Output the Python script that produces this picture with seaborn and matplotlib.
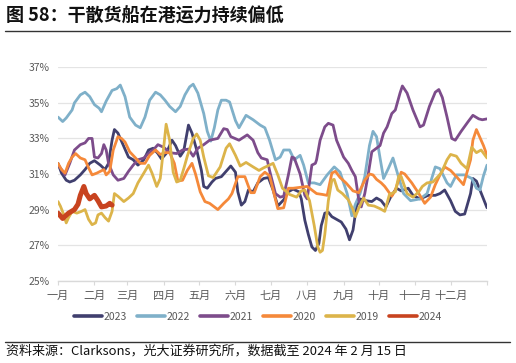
import matplotlib.pyplot as plt
import seaborn as sns
import pandas as pd
from matplotlib.lines import Line2D

# day-of-year samples, one pair of lists per year
days_2023 = [0, 3, 7, 10, 14, 19, 23, 27, 31, 36, 40, 43, 46, 48, 51, 56, 60, 64, 68, 73, 77, 81, 85, 88,
             92, 97, 100, 104, 107, 111, 114, 118, 122, 124, 127, 131, 134, 139, 143, 147, 151, 153, 156,
             159, 162, 166, 170, 175, 179, 183, 187, 192, 196, 200, 205, 207, 210, 213, 216, 219, 222, 224,
             227, 230, 233, 237, 241, 245, 248, 251, 254, 257, 262, 267, 271, 275, 279, 283, 288, 292, 298,
             302, 308, 315, 321, 325, 329, 334, 338, 342, 346, 351, 353, 356, 359, 362, 365]
vals_2023 = [31.6, 31.05, 30.65, 30.55, 30.65, 30.95, 31.25, 31.6, 31.75, 31.5, 31.25, 31.6, 32.9, 33.5,
             33.3, 32.55, 31.95, 31.8, 31.5, 31.8, 32.35, 32.45, 32.15, 31.85, 32.15, 32.9, 32.6, 32.0,
             32.3, 33.75, 33.3, 32.35, 31.2, 30.3, 30.2, 30.55, 30.75, 30.85, 31.15, 31.45, 31.1, 30.0,
             29.25, 29.45, 30.1, 30.0, 30.5, 30.75, 30.8, 30.1, 29.2, 29.55, 30.0, 30.15, 30.0, 29.6,
             28.4, 27.6, 26.9, 26.7, 27.1, 28.1, 28.8, 28.85, 28.6, 28.45, 28.3, 27.9, 27.3, 27.85, 29.2,
             29.6, 29.5, 29.45, 29.65, 29.5, 29.15, 29.7, 30.2, 30.05, 30.2, 29.8, 29.6, 29.8, 29.8, 29.9,
             30.1, 29.5, 28.9, 28.7, 28.75, 29.9, 30.75, 30.6, 30.1, 29.6, 29.1]

days_2022 = [0, 4, 7, 12, 14, 19, 23, 27, 31, 35, 37, 41, 46, 50, 53, 57, 61, 66, 70, 74, 78, 83, 87, 91,
             95, 100, 104, 108, 112, 115, 119, 124, 127, 130, 133, 136, 139, 143, 146, 151, 154, 160, 166,
             172, 176, 180, 185, 189, 192, 197, 201, 206, 209, 213, 218, 223, 229, 235, 240, 246, 250, 253,
             257, 261, 265, 268, 271, 274, 277, 281, 285, 289, 294, 300, 308, 314, 321, 325, 331, 334, 339,
             346, 352, 356, 359, 362, 365]
vals_2022 = [34.2, 33.95, 34.15, 34.6, 35.0, 35.45, 35.6, 35.35, 34.9, 34.7, 34.5, 35.1, 35.7, 35.8, 36.0,
             35.35, 34.2, 33.75, 33.6, 34.2, 35.15, 35.6, 35.45, 35.15, 34.8, 34.5, 34.8, 35.45, 35.9,
             36.05, 35.55, 34.4, 33.4, 32.85, 33.6, 34.6, 35.15, 35.15, 35.05, 34.0, 33.6, 34.3, 34.05,
             33.75, 33.6, 32.9, 31.8, 31.95, 32.35, 32.35, 31.8, 32.05, 31.5, 30.5, 30.5, 30.4, 30.95,
             31.4, 31.1, 29.9, 28.65, 29.3, 29.9, 30.85, 32.6, 33.4, 33.1, 31.9, 30.75, 31.3, 31.9, 31.0,
             29.9, 29.5, 29.6, 29.9, 31.4, 31.3, 30.5, 30.3, 30.95, 30.95, 30.75, 30.2, 30.1, 30.9, 31.5]

days_2021 = [0, 3, 6, 10, 14, 19, 23, 26, 29, 31, 34, 37, 39, 41, 43, 47, 51, 56, 60, 64, 68, 73, 77, 81,
             85, 90, 95, 101, 106, 111, 115, 119, 124, 129, 136, 141, 144, 147, 154, 161, 166, 170, 173,
             178, 180, 185, 189, 192, 196, 199, 201, 206, 210, 212, 216, 219, 220, 223, 227, 230, 234, 237,
             243, 247, 250, 253, 256, 258, 261, 264, 267, 271, 274, 277, 280, 284, 287, 291, 293, 297, 302,
             308, 311, 316, 321, 324, 327, 331, 335, 338, 343, 349, 353, 358, 361, 365]
vals_2021 = [31.5, 31.25, 30.95, 31.6, 32.35, 32.65, 32.75, 33.0, 33.0, 31.95, 31.9, 32.15, 32.65, 32.35,
             31.6, 30.95, 30.65, 30.75, 31.15, 31.5, 31.8, 31.9, 32.15, 32.35, 32.65, 32.5, 32.2, 32.15,
             32.35, 32.4, 32.0, 32.45, 32.65, 32.9, 33.0, 33.55, 33.5, 33.1, 32.9, 33.2, 32.9, 32.2, 31.9,
             31.8, 31.2, 29.9, 29.7, 29.75, 30.95, 31.95, 31.9, 31.0, 29.8, 29.6, 31.5, 31.6, 31.8, 32.9,
             33.65, 33.85, 33.75, 32.9, 31.95, 31.6, 31.2, 30.85, 29.5, 29.15, 29.9, 31.0, 32.25, 32.45,
             32.6, 33.3, 33.65, 34.4, 34.6, 35.55, 35.95, 35.55, 34.6, 33.65, 33.75, 34.8, 35.6, 35.75,
             35.3, 34.2, 33.0, 32.9, 33.4, 33.95, 34.3, 34.1, 34.05, 34.1]

days_2020 = [0, 3, 6, 9, 12, 15, 19, 23, 26, 29, 33, 36, 39, 41, 44, 47, 51, 54, 57, 61, 66, 70, 74, 78,
             83, 87, 91, 95, 99, 102, 106, 110, 114, 117, 121, 125, 129, 134, 136, 141, 145, 148, 153, 159,
             164, 167, 172, 176, 180, 183, 187, 192, 196, 200, 206, 212, 216, 220, 225, 229, 233, 236, 240,
             245, 251, 256, 261, 265, 268, 271, 275, 278, 284, 287, 292, 295, 301, 307, 312, 317, 321, 325,
             329, 334, 339, 345, 351, 353, 356, 359, 362, 365]
vals_2020 = [31.6, 31.25, 31.05, 31.6, 31.95, 32.15, 31.9, 31.8, 31.35, 30.95, 31.05, 31.15, 31.25, 30.95,
             31.15, 32.35, 33.1, 33.0, 32.8, 32.25, 31.9, 31.6, 31.6, 32.05, 32.35, 32.1, 32.2, 32.2, 31.6,
             30.6, 30.65, 31.2, 31.6, 31.0, 30.0, 29.45, 29.35, 29.1, 29.0, 29.35, 29.6, 29.9, 30.85,
             30.85, 29.95, 29.95, 30.85, 31.1, 30.9, 30.1, 29.05, 29.1, 30.2, 30.2, 30.25, 30.3, 30.1,
             29.9, 29.85, 29.8, 31.05, 31.15, 30.8, 30.5, 30.05, 29.95, 30.65, 31.0, 30.95, 30.7, 30.5,
             30.3, 29.75, 30.1, 31.1, 31.0, 30.5, 29.9, 29.35, 29.7, 30.4, 30.95, 31.4, 31.2, 30.85, 30.4,
             31.8, 32.9, 33.5, 33.05, 32.6, 32.05]

days_2019 = [0, 2, 5, 7, 9, 12, 16, 20, 23, 26, 29, 32, 34, 37, 40, 43, 46, 48, 51, 56, 60, 64, 68, 73,
             77, 80, 84, 87, 90, 92, 95, 98, 101, 104, 107, 110, 115, 118, 121, 124, 128, 132, 138, 143,
             146, 151, 155, 160, 166, 171, 175, 180, 183, 187, 191, 197, 203, 207, 210, 214, 218, 221, 223,
             225, 227, 230, 233, 235, 238, 242, 247, 251, 253, 256, 260, 264, 269, 274, 278, 282, 287, 290,
             292, 297, 302, 307, 310, 314, 319, 326, 331, 334, 339, 343, 348, 352, 356, 360, 365]
vals_2019 = [29.45, 29.2, 28.7, 28.25, 28.55, 28.9, 28.8, 28.9, 29.0, 28.45, 28.15, 28.25, 28.7, 28.8,
             28.55, 28.35, 28.9, 29.9, 29.75, 29.45, 29.65, 29.9, 30.5, 31.05, 31.5, 31.05, 30.3, 30.75,
             32.55, 33.8, 32.9, 31.1, 30.55, 30.65, 31.3, 32.0, 33.0, 33.25, 32.9, 31.95, 30.9, 30.8, 31.4,
             32.45, 32.7, 32.05, 31.45, 31.65, 31.4, 31.2, 31.35, 31.5, 31.6, 30.95, 30.2, 29.85, 29.7,
             30.05, 30.1, 29.5, 28.1, 26.9, 26.6, 26.7, 27.6, 29.5, 30.65, 30.7, 30.1, 29.9, 29.55, 29.0,
             28.6, 29.1, 29.65, 29.25, 29.2, 29.05, 28.9, 29.85, 30.0, 30.9, 30.85, 29.9, 29.7, 30.0, 30.3,
             30.5, 30.55, 31.05, 31.8, 32.1, 32.0, 31.6, 31.3, 32.5, 32.2, 32.35, 31.9]

days_2024 = [0, 4, 9, 14, 17, 19, 22, 24, 27, 31, 34, 37, 41, 44, 46]
vals_2024 = [28.8, 28.5, 28.8, 29.0, 29.3, 29.8, 30.3, 29.9, 29.6, 29.8, 29.5, 29.15, 29.2, 29.35, 29.25]

month_starts = [0, 31, 59, 90, 120, 151, 181, 212, 243, 273, 304, 334]
month_labels = ["一月", "二月", "三月", "四月", "五月", "六月",
                "七月", "八月", "九月", "十月", "十一月", "十二月"]
y_ticks = [25, 27, 29, 31, 33, 35, 37]

series = [
    ("2023", days_2023, vals_2023, "#403f6e", 2.0),
    ("2022", days_2022, vals_2022, "#7fb0c9", 2.0),
    ("2021", days_2021, vals_2021, "#7d4c8b", 2.0),
    ("2020", days_2020, vals_2020, "#f5893a", 2.0),
    ("2019", days_2019, vals_2019, "#dcb44a", 2.0),
    ("2024", days_2024, vals_2024, "#c8431f", 3.6),
]

sns.set_theme(style="white")
plt.rcParams["font.family"] = ["Noto Sans CJK SC", "DejaVu Sans"]

fig = plt.figure(figsize=(5.16, 3.63), dpi=100)
ax = fig.add_axes([0.1124, 0.2267, 0.8314, 0.5879])

for name, d, v, color, lw in series:
    df = pd.DataFrame({"day": d, "value": v})
    sns.lineplot(data=df, x="day", y="value", ax=ax, color=color, linewidth=lw,
                 estimator=None, sort=False, label=name)

ax.set_xlim(0, 365)
ax.set_ylim(25, 37)
ax.set_yticks(y_ticks)
ax.set_yticklabels([f"{t}%" for t in y_ticks])
ax.set_xticks(month_starts + [365])
ax.set_xticklabels(month_labels + [""])
ax.set_xlabel("")
ax.set_ylabel("")

ax.grid(axis="y", color="#e4e4e4", linewidth=0.9)
ax.grid(axis="x", visible=False)
ax.set_axisbelow(True)
for side in ["top", "right", "left"]:
    ax.spines[side].set_visible(False)
ax.spines["bottom"].set_color("#d9d9d9")
ax.spines["bottom"].set_linewidth(1.0)
ax.tick_params(axis="x", bottom=True, length=3, width=0.8, color="#d9d9d9",
               labelsize=8, labelcolor="#595959", pad=4)
ax.tick_params(axis="y", left=False, length=0, labelsize=7.5, labelcolor="#595959", pad=6)

ax.get_legend().remove()
handles = [Line2D([], [], color=c, linewidth=2.6) for _, _, _, c, _ in series]
labels = [n for n, _, _, _, _ in series]
fig.legend(handles, labels, loc="center", bbox_to_anchor=(0.5, 0.128), ncol=6,
           frameon=False, fontsize=7.5, labelcolor="#595959", handlelength=2.7,
           handletextpad=0.15, columnspacing=0.95)

fig.text(0.012, 0.957, "图 58：干散货船在港运力持续偏低", fontsize=13,
         fontweight="bold", va="center", ha="left", color="#111111")
fig.add_artist(Line2D([0.01, 0.988], [0.915, 0.915], transform=fig.transFigure,
                      color="#333333", linewidth=1.0))
fig.add_artist(Line2D([0.01, 0.988], [0.0587, 0.0587], transform=fig.transFigure,
                      color="#333333", linewidth=1.0))
fig.text(0.012, 0.032, "资料来源：Clarksons，光大证券研究所，数据截至 2024 年 2 月 15 日",
         fontsize=9.4, va="center", ha="left", color="#111111")

fig.savefig("out.png", dpi=100)
